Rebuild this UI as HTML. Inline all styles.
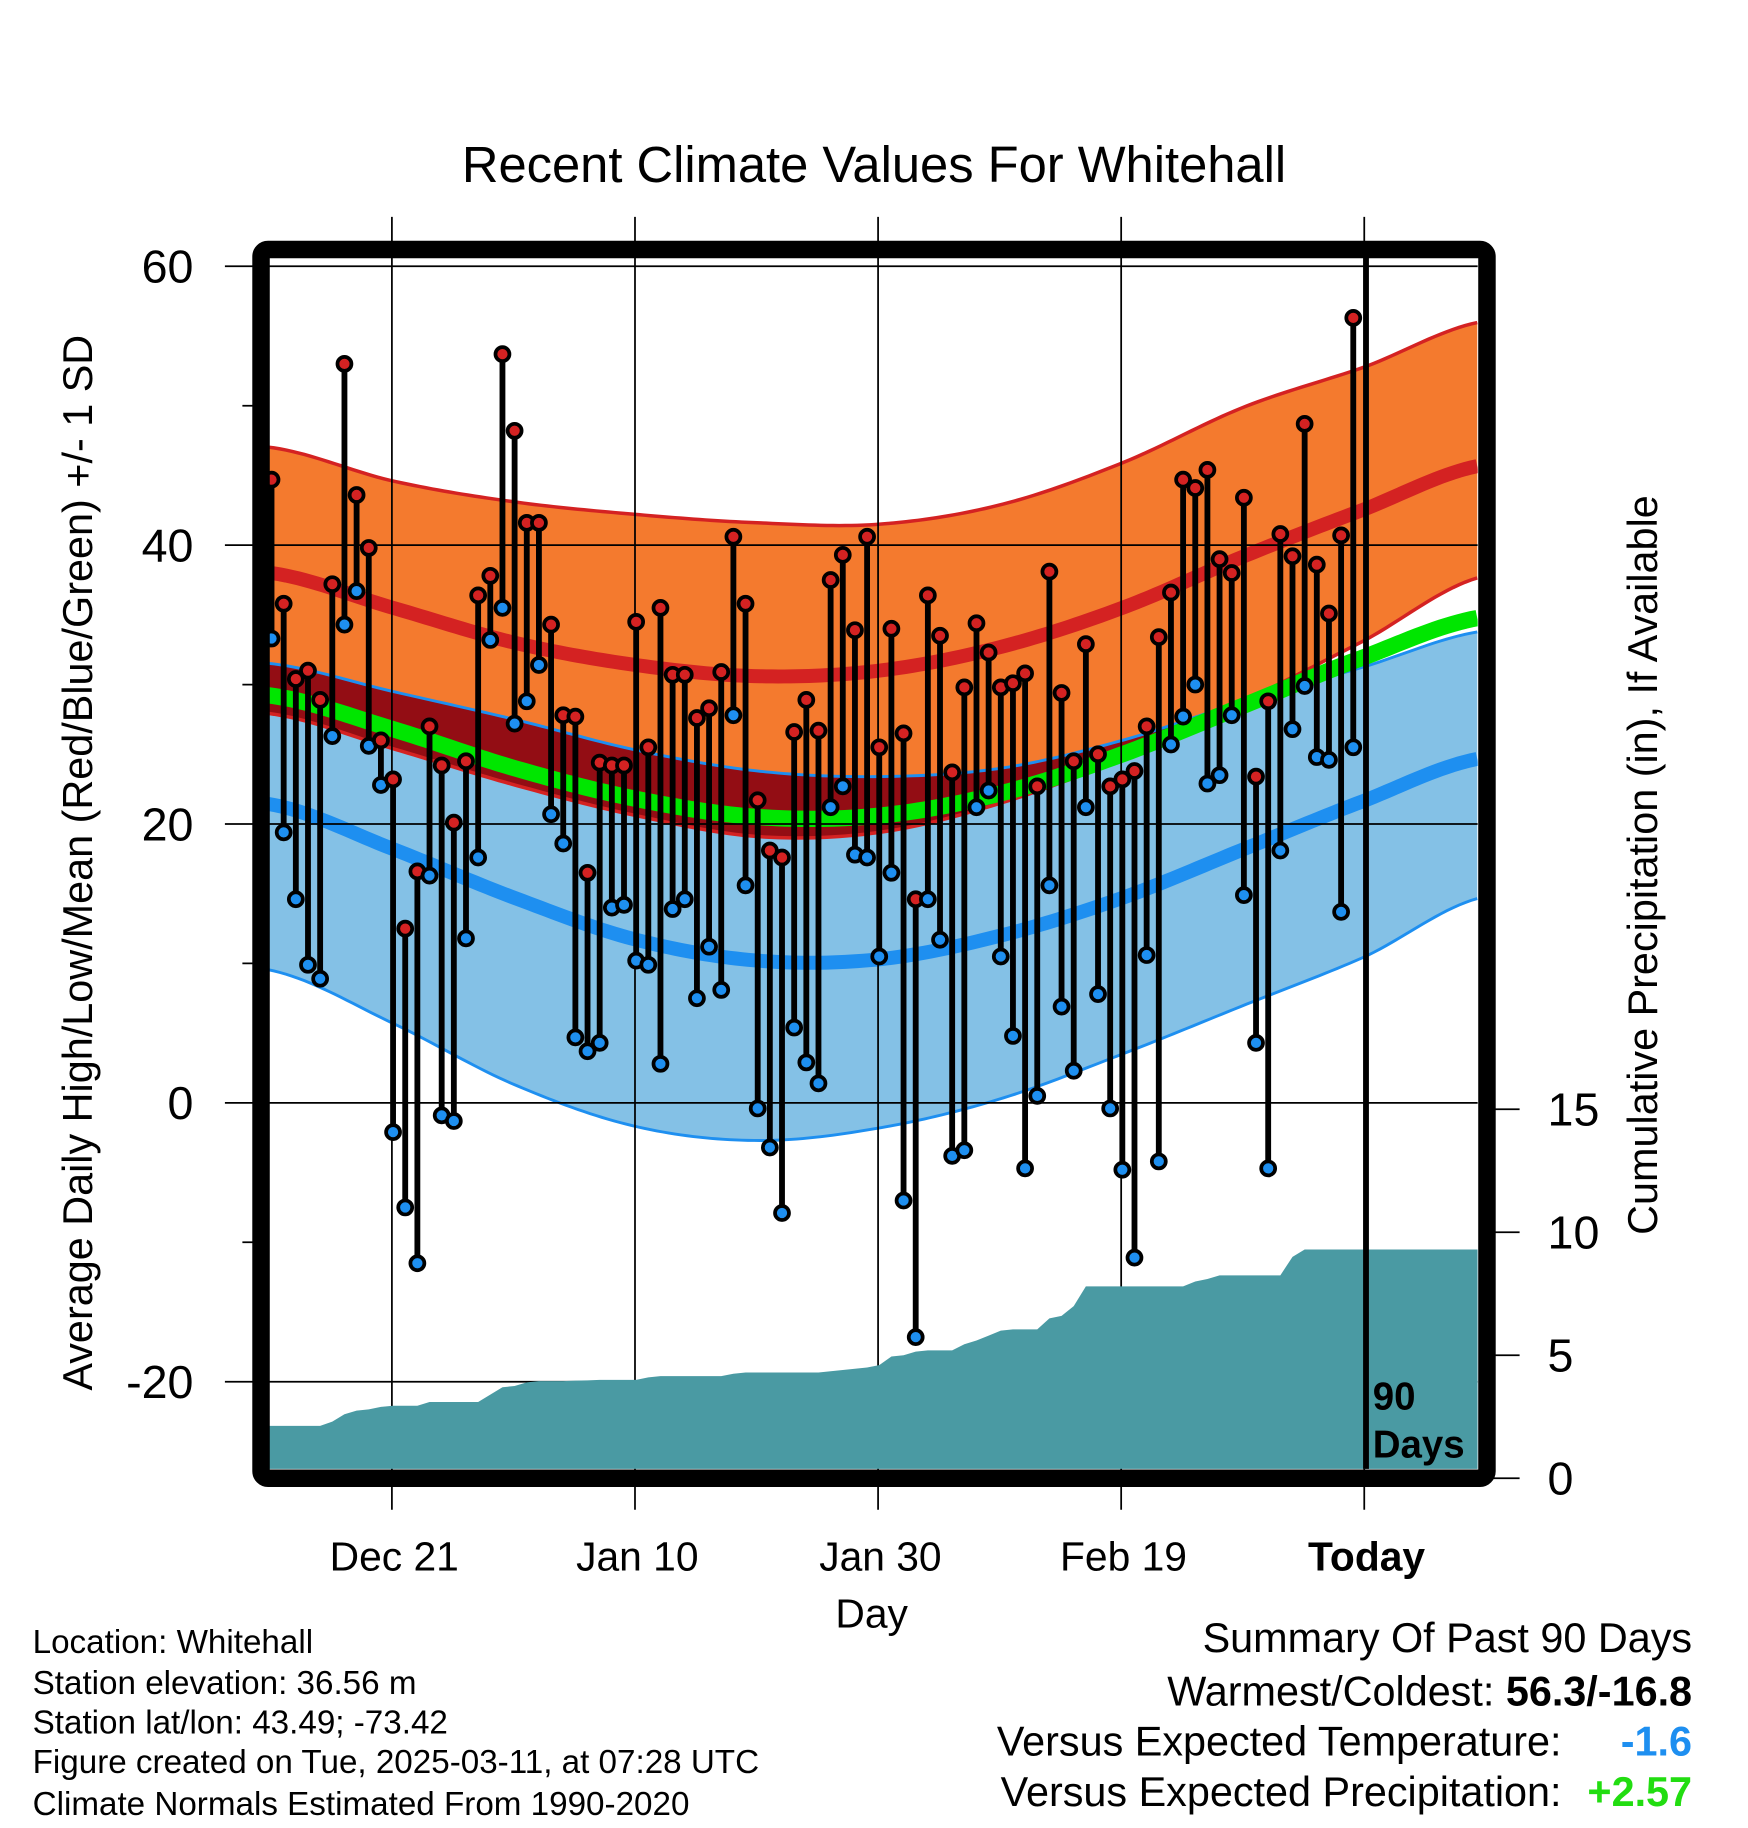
<!DOCTYPE html>
<html><head><meta charset="utf-8"><style>
html,body{margin:0;padding:0;background:#fff}
svg{display:block}
text{font-family:"Liberation Sans",Arial,sans-serif;fill:#000}
</style></head><body>
<svg id="chart" xmlns="http://www.w3.org/2000/svg" width="1748" height="1828" viewBox="0 0 1500 1568" preserveAspectRatio="none">
<defs><clipPath id="plotclip"><rect x="231" y="221" width="1037" height="1039"/></clipPath></defs>
<text x="750" y="156" font-size="43.5" text-anchor="middle">Recent Climate Values For Whitehall</text>
<g id="bands" clip-path="url(#plotclip)"></g>
<g id="grid"></g>
<g id="precip" clip-path="url(#plotclip)"></g>
<g id="marks" clip-path="url(#plotclip)"></g>
<g id="axes"></g>
<rect x="224" y="214" width="1052" height="1054" rx="6" fill="none" stroke="#000" stroke-width="15"/>
<text transform="translate(79,740) rotate(-90)" font-size="35.5" text-anchor="middle">Average Daily High/Low/Mean (Red/Blue/Green) +/- 1 SD</text>
<text transform="translate(1422,742) rotate(-90)" font-size="35.5" text-anchor="middle">Cumulative Precipitation (in), If Available</text>
<text x="748" y="1396" font-size="35" text-anchor="middle">Day</text>
<g font-size="28.5">
<text x="28" y="1418">Location: Whitehall</text>
<text x="28" y="1453">Station elevation: 36.56 m</text>
<text x="28" y="1487">Station lat/lon: 43.49; -73.42</text>
<text x="28" y="1521">Figure created on Tue, 2025-03-11, at 07:28 UTC</text>
<text x="28" y="1557">Climate Normals Estimated From 1990-2020</text>
</g>
<g font-size="35.5">
<text x="1452" y="1417" text-anchor="end">Summary Of Past 90 Days</text>
<text x="1452" y="1463" text-anchor="end">Warmest/Coldest: <tspan font-weight="bold">56.3/-16.8</tspan></text>
<text x="1340" y="1506" text-anchor="end">Versus Expected Temperature:</text>
<text x="1452" y="1506" text-anchor="end" font-weight="bold" style="fill:#1e8ff0">-1.6</text>
<text x="1340" y="1549" text-anchor="end">Versus Expected Precipitation:</text>
<text x="1452" y="1549" text-anchor="end" font-weight="bold" style="fill:#22dd11">+2.57</text>
</g>
</svg>
<script>
const highs=[44.7,35.8,30.4,31.0,28.9,37.2,53.0,43.6,39.8,26.0,23.2,12.5,16.6,27.0,24.2,20.1,24.5,36.4,37.8,53.7,48.2,41.6,41.6,34.3,27.8,27.7,16.5,24.4,24.2,24.2,34.5,25.5,35.5,30.7,30.7,27.6,28.3,30.9,40.6,35.8,21.7,18.1,17.6,26.6,28.9,26.7,37.5,39.3,33.9,40.6,25.5,34.0,26.5,14.6,36.4,33.5,23.7,29.8,34.4,32.3,29.8,30.1,30.8,22.7,38.1,29.4,24.5,32.9,25.0,22.7,23.2,23.8,27.0,33.4,36.6,44.7,44.1,45.4,39.0,38.0,43.4,23.4,28.8,40.8,39.2,48.7,38.6,35.1,40.7,56.3];
const lows=[33.3,19.4,14.6,9.9,8.9,26.3,34.3,36.7,25.6,22.8,-2.1,-7.5,-11.5,16.3,-0.9,-1.3,11.8,17.6,33.2,35.5,27.2,28.8,31.4,20.7,18.6,4.7,3.7,4.3,14.0,14.2,10.2,9.9,2.8,13.9,14.6,7.5,11.2,8.1,27.8,15.6,-0.4,-3.2,-7.9,5.4,2.9,1.4,21.2,22.7,17.8,17.6,10.5,16.5,-7.0,-16.8,14.6,11.7,-3.8,-3.4,21.2,22.4,10.5,4.8,-4.7,0.5,15.6,6.9,2.3,21.2,7.8,-0.4,-4.8,-11.1,10.6,-4.2,25.7,27.7,30.0,22.9,23.5,27.8,14.9,4.3,-4.7,18.1,26.8,29.9,24.8,24.6,13.7,25.5];
const precip=[2.13,2.13,2.13,2.13,2.13,2.3,2.6,2.75,2.8,2.9,2.95,2.95,2.95,3.1,3.1,3.1,3.1,3.1,3.4,3.7,3.75,3.9,3.95,3.95,3.95,3.97,3.98,4.0,4.0,4.0,4.0,4.1,4.15,4.15,4.15,4.15,4.15,4.15,4.25,4.3,4.3,4.3,4.3,4.3,4.3,4.3,4.35,4.4,4.45,4.5,4.6,4.95,5.0,5.15,5.2,5.2,5.2,5.45,5.6,5.8,6.0,6.05,6.05,6.05,6.5,6.6,7.0,7.8,7.8,7.8,7.8,7.8,7.8,7.8,7.8,7.8,8.0,8.1,8.25,8.25,8.25,8.25,8.25,8.25,9.0,9.3,9.3,9.3,9.3,9.3];
const normDays=[0,10,20,30,40,50,60,70,80,90,99.4];
const highUpper=[47.0,44.6,43.1,42.2,41.6,41.5,42.9,45.9,49.9,52.8,56.0];
const highMean=[38.0,35.5,33.0,31.4,30.6,31.0,32.7,35.5,39.2,42.6,45.7];
const highLower=[27.9,25.4,22.8,20.6,19.1,19.4,21.5,24.7,28.8,33.2,37.7];
const lowUpper=[31.5,29.5,27.5,25.3,23.8,23.4,24.0,26.0,28.8,31.3,33.8];
const lowMean=[21.4,18.2,14.7,11.7,10.2,10.3,12.0,14.7,18.2,21.7,24.7];
const lowLower=[9.5,5.7,1.3,-1.7,-2.7,-1.8,0.3,3.5,7.0,10.5,14.7];
const meanLine=[29.2,26.8,24.0,21.8,20.5,20.6,22.2,25.0,28.5,32.0,34.8];
const yTicks=[60,40,20,0,-20];
const yMinor=[50,30,10,-10];
const pTicks=[0,5,10,15];
const xTickDays=[10,30,50,70,90];
const xTickLabels=["Dec 21","Jan 10","Jan 30","Feb 19","Today"];

const NS="http://www.w3.org/2000/svg";
const xs=d=>233+10.43*d;
const ys=v=>946-11.96*v;
const yp=p=>1268-21.1*p;
function mk(tag,attrs,parent){const e=document.createElementNS(NS,tag);for(const k in attrs)e.setAttribute(k,attrs[k]);parent.appendChild(e);return e;}
function sample(arr){const pts=[];for(let d=-0.3;d<=99.4;d+=0.5){let i=0;while(i<normDays.length-2&&d>normDays[i+1])i++;const t=(d-normDays[i])/(normDays[i+1]-normDays[i]);
const p0=arr[Math.max(i-1,0)],p1=arr[i],p2=arr[i+1],p3=arr[Math.min(i+2,arr.length-1)];
const t2=t*t,t3=t2*t;const v=0.5*((2*p1)+(-p0+p2)*t+(2*p0-5*p1+4*p2-p3)*t2+(-p0+3*p1-3*p2+p3)*t3);pts.push([d,v]);}return pts;}
const bands=document.getElementById('bands');
function band(up,lo,fill,name){const a=sample(up),b=sample(lo);const pts=a.map(p=>xs(p[0])+','+ys(p[1])).concat(b.reverse().map(p=>xs(p[0])+','+ys(p[1])));
const e=mk('polygon',{points:pts.join(' '),fill:fill},bands);

}
function line(arr,color,w,name){const e=mk('polyline',{points:sample(arr).map(p=>xs(p[0])+','+ys(p[1])).join(' '),fill:'none',stroke:color,'stroke-width':w},bands);

}
band(highUpper,highLower,'#f47a2e','high-sd-band');
band(lowUpper,lowLower,'#84c1e6','low-sd-band');
const ovl=lowUpper.map((v,i)=>Math.min(highLower[i],v));
band(lowUpper,ovl,'#930d14','overlap-band');
line(highUpper,'#d42222',3,'high-upper-line');
line(highLower,'#d42222',3,'high-lower-line');
line(lowUpper,'#1e8ff0',2.5,'low-upper-line');
line(lowLower,'#1e8ff0',2.5,'low-lower-line');
line(meanLine,'#00e600',14,'mean-line');
line(highMean,'#d42222',12,'high-mean-line');
line(lowMean,'#1e8ff0',12,'low-mean-line');

const grid=document.getElementById('grid');
yTicks.forEach(v=>{const e=mk('line',{x1:193,x2:1268,y1:ys(v),y2:ys(v),stroke:'#000','stroke-width':1.5},grid);

});
xTickDays.forEach(d=>{const e=mk('line',{x1:xs(d)-1,x2:xs(d)-1,y1:186,y2:1295,stroke:'#000','stroke-width':1.5},grid);

});

const pg=document.getElementById('precip');
const ppts=['231,1268','231,'+yp(precip[0])].concat(precip.map((p,i)=>xs(i)+','+yp(p))).concat(['1268,'+yp(precip[precip.length-1]),'1268,1268']);
const pe=mk('polygon',{points:ppts.join(' '),fill:'#4a9aa3'},pg);



const marks=document.getElementById('marks');
highs.forEach((h,i)=>{const l=lows[i];const x=xs(i);
const s=mk('line',{x1:x,x2:x,y1:ys(h),y2:ys(l),stroke:'#000','stroke-width':5},marks);

});
highs.forEach((h,i)=>{const x=xs(i);
const c1=mk('circle',{cx:x,cy:ys(lows[i]),r:6,fill:'#1e8ff0',stroke:'#000','stroke-width':3.2},marks);


const c2=mk('circle',{cx:x,cy:ys(h),r:6,fill:'#d42222',stroke:'#000','stroke-width':3.2},marks);

});
const tl=mk('line',{x1:xs(90)+0.5,x2:xs(90)+0.5,y1:221,y2:1262,stroke:'#000','stroke-width':5},marks);


const t90=mk('text',{x:1178,y:1209,'font-size':33,'font-weight':'bold'},marks);t90.textContent='90';


const tdy=mk('text',{x:1178,y:1250,'font-size':33,'font-weight':'bold'},marks);tdy.textContent='Days';



const axes=document.getElementById('axes');
yTicks.forEach(v=>{const t=mk('text',{x:166,y:ys(v)+14,'font-size':40,'text-anchor':'end'},axes);t.textContent=v;

});
yMinor.forEach(v=>{const e=mk('line',{x1:208,x2:224,y1:ys(v),y2:ys(v),stroke:'#000','stroke-width':1.5},axes);

});
pTicks.forEach(p=>{const e=mk('line',{x1:1276,x2:1304,y1:yp(p),y2:yp(p),stroke:'#000','stroke-width':1.5},axes);


const t=mk('text',{x:1328,y:yp(p)+14,'font-size':40},axes);t.textContent=p;

});
xTickDays.forEach((d,i)=>{const t=mk('text',{x:xs(d)+1,y:1347,'font-size':35,'text-anchor':'middle'},axes);t.textContent=xTickLabels[i];
if(xTickLabels[i]==='Today')t.setAttribute('font-weight','bold');

});
</script>
</body></html>
